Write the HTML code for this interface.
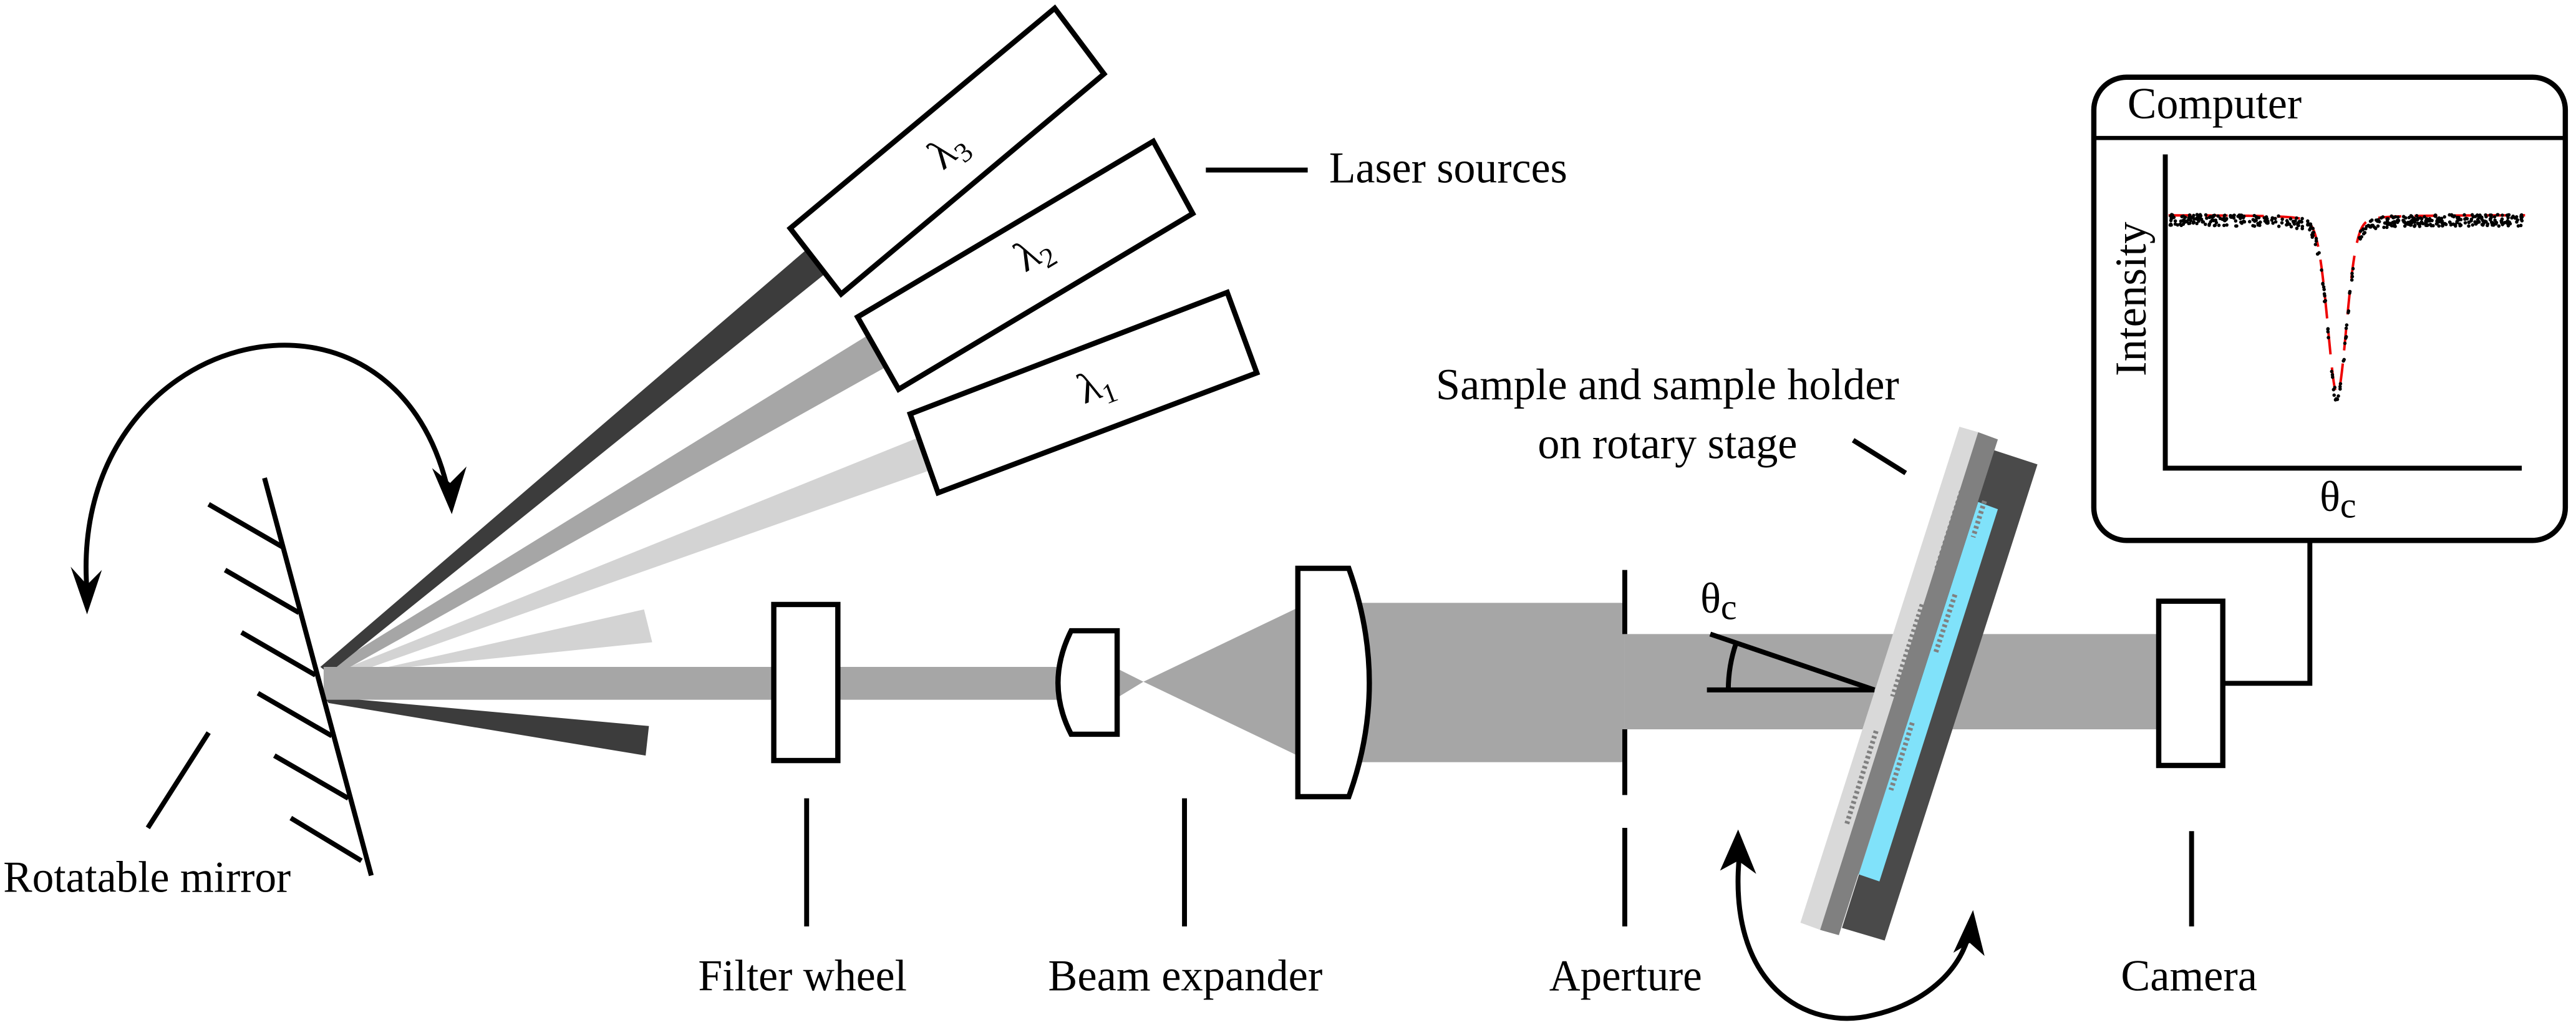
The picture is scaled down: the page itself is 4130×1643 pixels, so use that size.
<!DOCTYPE html>
<html><head><meta charset="utf-8"><style>
html,body{margin:0;padding:0;background:#fff;}
svg{display:block;}
text{font-family:"Liberation Serif","DejaVu Serif","Times New Roman",serif;fill:#000;}
</style></head><body>
<svg id="s" width="4130" height="1643" viewBox="0 0 1568 624" preserveAspectRatio="none" xmlns="http://www.w3.org/2000/svg">
<rect width="1568" height="624" fill="#fff"/>
<polygon points="210,407 560,266 567,286 218,409" fill="#d3d3d3"/>
<polygon points="232,407 392,371 397,391 240,407" fill="#d3d3d3"/>
<polygon points="198,408 530,203 540,223 206,410" fill="#a6a6a6"/>
<polygon points="195,406 492,151 503,166 200,410" fill="#3c3c3c"/>
<polygon points="197,424 395,442 393,460 200,428" fill="#3c3c3c"/>
<rect x="197" y="406" width="450" height="20" fill="#a6a6a6"/>
<polygon points="678,406 696,415 678,426" fill="#a6a6a6"/>
<polygon points="696,415 792,369 792,461" fill="#a6a6a6"/>
<rect x="800" y="367" width="189" height="97" fill="#a6a6a6"/>
<rect x="989" y="386" width="326" height="58" fill="#a6a6a6"/>
<g fill="#fff" stroke="#000" stroke-width="3.2" stroke-linejoin="miter">
<polygon points="481,139 642,5 672,45 512,179"/>
<polygon points="522,193 702,86 726,130 547,237"/>
<polygon points="554,252 747,178 765,227 571,300"/>
</g>
<text transform="translate(574,104) rotate(-40)" font-size="26">λ<tspan font-size="17" dy="5">3</tspan></text>
<text transform="translate(624,166) rotate(-31)" font-size="26">λ<tspan font-size="17" dy="5">2</tspan></text>
<text transform="translate(660,246) rotate(-21)" font-size="26">λ<tspan font-size="17" dy="5">1</tspan></text>
<line x1="734" y1="103.5" x2="796" y2="103.5" stroke="#000" stroke-width="3"/>
<text x="809" y="111" font-size="27" textLength="145" lengthAdjust="spacingAndGlyphs">Laser sources</text>
<g stroke="#000" stroke-width="3" fill="none" stroke-linecap="butt">
<line x1="161" y1="291" x2="226" y2="533"/>
<line x1="127" y1="307" x2="172" y2="333"/>
<line x1="137" y1="347" x2="182" y2="373"/>
<line x1="147" y1="385" x2="192" y2="411"/>
<line x1="157" y1="422" x2="202" y2="448"/>
<line x1="167" y1="460" x2="212" y2="486"/>
<line x1="177" y1="498" x2="220" y2="524"/>
<line x1="127" y1="446" x2="90" y2="504"/>
<path d="M53,360 C40,200 240,150 273,300"/>
</g>
<polygon points="43,345 53,374 62,347 53,356" fill="#000"/>
<polygon points="263,285 275,313 284,284 274,294" fill="#000"/>
<text x="2" y="543" font-size="27" textLength="175" lengthAdjust="spacingAndGlyphs">Rotatable mirror</text>
<g fill="#fff" stroke="#000" stroke-width="3.2">
<rect x="471" y="368" width="39" height="95"/>
<path d="M652,384 L680,384 L680,447 L652,447 Q636,416 652,384 Z"/>
<path d="M790,346 L821,346 Q846,416 821,485 L790,485 Z"/>
<rect x="1314" y="366" width="39" height="100"/>
</g>
<g stroke="#000" stroke-width="3">
<line x1="491" y1="486" x2="491" y2="564"/>
<line x1="721" y1="486" x2="721" y2="564"/>
<line x1="989" y1="347" x2="989" y2="386"/>
<line x1="989" y1="444" x2="989" y2="484"/>
<line x1="989" y1="504" x2="989" y2="564"/>
<line x1="1334" y1="506" x2="1334" y2="564"/>
<polyline points="1353,416 1406,416 1406,329" fill="none"/>
<line x1="1128" y1="268" x2="1160" y2="288"/>
</g>
<g font-size="27">
<text x="425" y="603" textLength="127" lengthAdjust="spacingAndGlyphs">Filter wheel</text>
<text x="638" y="603" textLength="167" lengthAdjust="spacingAndGlyphs">Beam expander</text>
<text x="943" y="603" textLength="93" lengthAdjust="spacingAndGlyphs">Aperture</text>
<text x="1291" y="603" textLength="83" lengthAdjust="spacingAndGlyphs">Camera</text>
<text x="874" y="243" textLength="282" lengthAdjust="spacingAndGlyphs">Sample and sample holder</text>
<text x="936" y="279" textLength="158" lengthAdjust="spacingAndGlyphs">on rotary stage</text>
</g>
<g stroke="#000" stroke-width="3" fill="none">
<line x1="1039" y1="420" x2="1141" y2="420"/>
<line x1="1041" y1="386" x2="1141" y2="420"/>
<path d="M1052,420 A88,88 0 0 1 1056.8,391.4"/>
</g>
<text x="1035" y="373" font-size="26">θ<tspan font-size="22" dy="4">c</tspan></text>
<polygon points="1192.7,259.8 1204.1,263.1 1107.9,566.1 1095.9,561.7" fill="#d9d9d9"/>
<polygon points="1213.6,274 1240.2,282.7 1147.2,572.6 1121.2,564.9" fill="#4a4a4a"/>
<polygon points="1204.1,263.1 1216.1,267.5 1119.3,569.3 1107.9,566.1" fill="#808080"/>
<polygon points="1204.1,305.6 1216.1,310 1144,536.6 1131.4,532.3" fill="#80e2fa"/>
<polygon points="1204.1,305.6 1131.4,532.3 1120,532 1196,296" fill="#808080"/>
<g stroke="#808080" stroke-width="3" stroke-dasharray="1.6 1.6" fill="none">
<line x1="1194" y1="299" x2="1179" y2="346"/>
<line x1="1170" y1="368" x2="1152" y2="424"/>
<line x1="1142" y1="445" x2="1124" y2="502"/>
<line x1="1208" y1="305" x2="1201" y2="327"/>
<line x1="1190" y1="362" x2="1178" y2="398"/>
<line x1="1164" y1="440" x2="1151" y2="481"/>
</g>
<path d="M1059,518 C1050,600 1100,628 1140,618 C1175,610 1195,588 1199,566" stroke="#000" stroke-width="3" fill="none"/>
<polygon points="1047,530 1058,505 1069,532 1058,524" fill="#000"/>
<polygon points="1189,580 1201,554 1208,582 1199,574" fill="#000"/>
<rect x="1274.5" y="47" width="287" height="282" rx="20" ry="20" fill="#fff" stroke="#000" stroke-width="3.2"/>
<line x1="1274" y1="84" x2="1562" y2="84" stroke="#000" stroke-width="2.5"/>
<text x="1295" y="72" font-size="27" textLength="106" lengthAdjust="spacingAndGlyphs">Computer</text>
<polyline points="1318,94 1318,285 1535,285" fill="none" stroke="#000" stroke-width="3"/>
<text transform="translate(1306,229) rotate(-90)" font-size="27" textLength="94" lengthAdjust="spacingAndGlyphs">Intensity</text>
<text x="1412" y="311" font-size="26">θ<tspan font-size="22" dy="4">c</tspan></text>
<g id="plot"></g>
</svg>
<script>
(function(){
var g=document.getElementById('plot'),ns='http://www.w3.org/2000/svg';
function f(x){var d=x-1422.6;var gs=Math.exp(-d*d/(2*36));var lz=1/(1+d*d/40);return 131+109*(0.75*gs+0.25*lz);}
var seed=7;function r(){seed=(seed*16807)%2147483647;return seed/2147483647;}
var d='';for(var x=1320;x<=1537;x+=0.5){d+=(x==1320?'M':'L')+x+','+f(x).toFixed(2);}
var p=document.createElementNS(ns,'path');p.setAttribute('d',d);p.setAttribute('fill','none');
p.setAttribute('stroke','#e00');p.setAttribute('stroke-width','1.5');p.setAttribute('stroke-dasharray','14 8');g.appendChild(p);
for(var i=0;i<480;i++){var x=1321+r()*215;var y=f(x)+3+(r()-0.5)*7;
var c=document.createElementNS(ns,'circle');c.setAttribute('cx',x.toFixed(2));c.setAttribute('cy',y.toFixed(2));
c.setAttribute('r','1.05');c.setAttribute('fill','#000');g.appendChild(c);}
})();
</script>
</body></html>
